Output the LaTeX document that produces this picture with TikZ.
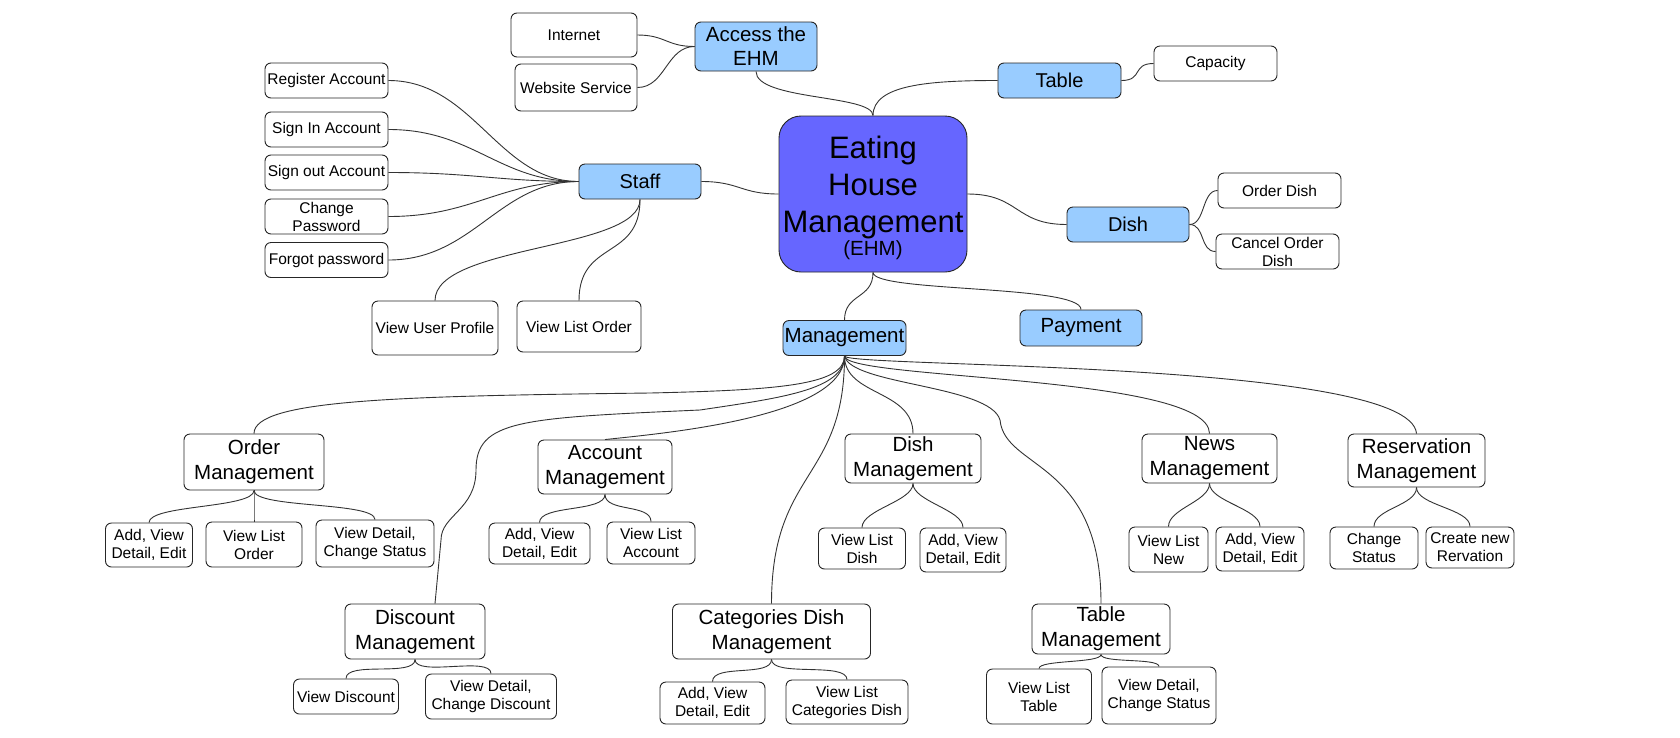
\documentclass[tikz,border=0pt]{standalone}
\usepackage{fontspec}
\setmainfont{Liberation Sans}
\definecolor{ehmblue}{HTML}{6666FF}
\definecolor{lightblue}{HTML}{99CCFF}
\definecolor{edgegray}{HTML}{333333}
\begin{document}
\begin{tikzpicture}[x=1pt,y=-1pt,
  box/.style={draw=black!85, line width=0.9pt, rounded corners=6pt, inner sep=0pt, align=center, text=black},
  wbox/.style={box, fill=white, font=\fontsize{15.5}{18}\selectfont},
  bbox/.style={box, fill=lightblue, font=\fontsize{20}{24}\selectfont},
  mbox/.style={box, fill=white, font=\fontsize{20.5}{25}\selectfont},
  conn/.style={draw=edgegray, line width=0.9pt}]
\useasboundingbox[fill=white] (0,0) rectangle (1680,737);

% central
\node[draw=black!85, line width=0.9pt, rounded corners=22pt, fill=ehmblue, minimum width=188pt, minimum height=156pt, inner sep=0pt, text width=188pt, align=center] (ehm) at (873,194)
  {\fontsize{31}{37}\selectfont\rule{0pt}{30pt}Eating\\House\\Management\par\fontsize{20.5}{30}\selectfont (EHM)};

% top
\node[bbox, minimum width=122pt, minimum height=49pt, font=\fontsize{20.5}{24}\selectfont] (access) at (756,46.5) {Access the\\EHM};
\node[wbox, minimum width=126pt, minimum height=44pt] (internet) at (574,35) {Internet};
\node[wbox, minimum width=122pt, minimum height=47pt] (website) at (576,87.5) {Website Service};
\node[bbox, minimum width=123pt, minimum height=35pt] (table) at (1059.5,80.5) {Table};
\node[wbox, minimum width=123pt, minimum height=35pt] (capacity) at (1215.5,63.5) {Capacity};

% staff
\node[bbox, minimum width=122pt, minimum height=35pt] (staff) at (640,181.5) {Staff};
\node[wbox, minimum width=123pt, minimum height=35pt] (register) at (326.5,80.5) {Register Account};
\node[wbox, minimum width=123pt, minimum height=35pt] (signin) at (326.5,129.5) {Sign In Account};
\node[wbox, minimum width=123pt, minimum height=35pt] (signout) at (326.5,172.5) {Sign out Account};
\node[wbox, minimum width=123pt, minimum height=35pt] (changepw) at (326.5,216.5) {Change\\Password};
\node[wbox, minimum width=123pt, minimum height=35pt] (forgot) at (326.5,260) {Forgot password};
\node[wbox, minimum width=126pt, minimum height=54pt] (vup) at (435,328) {View User Profile};
\node[wbox, minimum width=124pt, minimum height=51pt] (vlo) at (579,326.5) {View List Order};

% dish / payment / management
\node[bbox, minimum width=122pt, minimum height=35pt] (dish) at (1128,224.5) {Dish};
\node[wbox, minimum width=123pt, minimum height=35pt] (orderdish) at (1279.5,190.5) {Order Dish};
\node[wbox, minimum width=123pt, minimum height=35pt] (canceldish) at (1277.5,251.5) {Cancel Order\\Dish};
\node[bbox, minimum width=122pt, minimum height=36pt, font=\fontsize{20.5}{24}\selectfont] (payment) at (1081,328) {Payment};
\node[bbox, minimum width=123pt, minimum height=35pt, font=\fontsize{20.5}{24}\selectfont] (mgmt) at (844.5,338) {Management};

% level 2
\node[mbox, minimum width=140pt, minimum height=56pt] (ordermg) at (254,462) {Order\\Management};
\node[mbox, minimum width=134pt, minimum height=54pt] (accountmg) at (605,467) {Account\\Management};
\node[mbox, minimum width=136pt, minimum height=49pt] (dishmg) at (913,458.5) {Dish\\Management};
\node[mbox, minimum width=135pt, minimum height=49pt] (newsmg) at (1209.5,458.5) {News\\Management};
\node[mbox, minimum width=137pt, minimum height=53pt] (resmg) at (1416.5,460.5) {Reservation\\Management};
\node[mbox, minimum width=140pt, minimum height=55pt] (discmg) at (415,631.5) {Discount\\Management};
\node[mbox, minimum width=198pt, minimum height=55pt] (catmg) at (771.5,631.5) {Categories Dish\\Management};
\node[mbox, minimum width=138pt, minimum height=50pt] (tablemg) at (1101,629) {Table\\Management};

% level 3
\node[wbox, minimum width=87pt, minimum height=44pt] (o1) at (149,545) {Add, View\\Detail, Edit};
\node[wbox, minimum width=96pt, minimum height=45pt] (o2) at (254,544.5) {View List\\Order};
\node[wbox, minimum width=118pt, minimum height=47pt] (o3) at (375,543.5) {View Detail,\\Change Status};
\node[wbox, minimum width=101pt, minimum height=41pt] (a1) at (539.5,543.5) {Add, View\\Detail, Edit};
\node[wbox, minimum width=88pt, minimum height=42pt] (a2) at (651,543) {View List\\Account};
\node[wbox, minimum width=87pt, minimum height=41pt] (d1) at (862,548.5) {View List\\Dish};
\node[wbox, minimum width=86pt, minimum height=44pt] (d2) at (963,550) {Add, View\\Detail, Edit};
\node[wbox, minimum width=79pt, minimum height=45pt] (n1) at (1168.5,549.5) {View List\\New};
\node[wbox, minimum width=88pt, minimum height=44pt] (n2) at (1260,549) {Add, View\\Detail, Edit};
\node[wbox, minimum width=88pt, minimum height=42pt] (r1) at (1374,548) {Change\\Status};
\node[wbox, minimum width=88pt, minimum height=41pt] (r2) at (1470,547.5) {Create new\\Rervation};
\node[wbox, minimum width=105pt, minimum height=35pt] (dc1) at (346,696.5) {View Discount};
\node[wbox, minimum width=131pt, minimum height=45pt] (dc2) at (491,696.5) {View Detail,\\Change Discount};
\node[wbox, minimum width=105pt, minimum height=42pt] (c1) at (712.5,703) {Add, View\\Detail, Edit};
\node[wbox, minimum width=122pt, minimum height=44pt] (c2) at (847,702) {View List\\Categories Dish};
\node[wbox, minimum width=105pt, minimum height=55pt] (t1) at (1039,696.5) {View List\\Table};
\node[wbox, minimum width=114pt, minimum height=57pt] (t2) at (1159,695.5) {View Detail,\\Change Status};

% ---- connectors ----
\begin{scope}[on background layer/.style={}]
\draw[conn] (ehm.north) .. controls +(0,-21) and +(0,29) .. (access.south);
\draw[conn] (ehm.north) .. controls +(0,-31) and +(-68,0) .. (table.west);
\draw[conn] (table.east) .. controls +(22,0) and +(-22,0) .. (capacity.west);
\draw[conn] (access.west) .. controls +(-28,0) and +(28,0) .. (internet.east);
\draw[conn] (access.west) .. controls +(-28,0) and +(28,0) .. (website.east);

\foreach \b in {register,signin,signout,changepw,forgot}
  \draw[conn] (staff.west) .. controls +(-80,0) and +(85,0) .. (\b.east);
\draw[conn] (staff.south) .. controls +(0,51) and +(0,-56) .. (vup.north);
\draw[conn] (staff.south) .. controls +(0,61) and +(0,-61) .. (vlo.north);
\draw[conn] (staff.east) .. controls +(38,0) and +(-38,0) .. (ehm.west);

\draw[conn] (ehm.east) .. controls +(52,0) and +(-52,0) .. (dish.west);
\draw[conn] (dish.east) .. controls +(16,0) and +(-16,0) .. (orderdish.west);
\draw[conn] (dish.east) .. controls +(16,0) and +(-16,0) .. (canceldish.west);

\draw[conn] (ehm.south) .. controls +(0,27) and +(0,-27) .. (mgmt.north);
\draw[conn] (ehm.south) .. controls +(0,20) and +(0,-25) .. (payment.north);

% management children
\draw[conn] (mgmt.south) .. controls +(0,29) and +(130,-3) .. (650,393)
  .. controls +(-250,3) and +(0,-34) .. (ordermg.north);
\draw[conn] (mgmt.south) .. controls +(0,34) and +(80,-12) .. (700,410)
  .. controls +(-180,8) and +(0,-50) .. (476,470)
  .. controls +(0,40) and +(0,-25) .. (441,540)
  -- ([xshift=20pt]discmg.north);
\draw[conn] (mgmt.south) .. controls +(0,62) and +(55,-6) .. (accountmg.north);
\draw[conn] (mgmt.south) .. controls +(0,125) and +(0,-134) .. (catmg.north);
\draw[conn] (mgmt.south) .. controls +(0,40) and +(0,-44) .. (dishmg.north);
\draw[conn] (mgmt.south) .. controls +(6,29) and +(-10,-35) .. (1000,420)
  .. controls +(5,50) and +(0,-144) .. (tablemg.north);
\draw[conn] (mgmt.south) .. controls +(0,24) and +(0,-59) .. (newsmg.north);
\draw[conn] (mgmt.south) .. controls +(0,12) and +(-6,-74) .. (resmg.north);

% level 3
\foreach \p/\c in {ordermg/o1,ordermg/o2,ordermg/o3,accountmg/a1,accountmg/a2,dishmg/d1,dishmg/d2,newsmg/n1,newsmg/n2,resmg/r1,resmg/r2,discmg/dc1,discmg/dc2,catmg/c1,catmg/c2}
  \draw[conn] (\p.south) .. controls +(0,18) and +(0,-18) .. (\c.north);
\foreach \c in {t1,t2}
  \draw[conn] (tablemg.south) .. controls +(0,9) and +(0,-9) .. (\c.north);
\end{scope}
\end{tikzpicture}
\end{document}
